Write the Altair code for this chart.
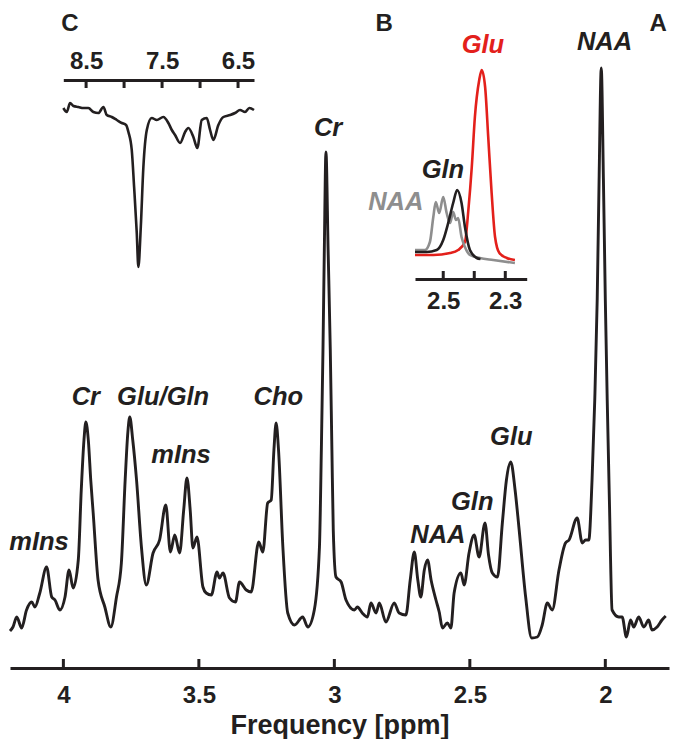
import altair as alt
import pandas as pd

# ---------------- data ----------------
# main spectrum (A): chemical shift [ppm] and intensity [a.u.]
main_ppm = [4.197, 4.186, 4.172, 4.154, 4.136, 4.117, 4.105, 4.087, 4.062, 4.043,
            4.031, 4.013, 3.994, 3.979, 3.964, 3.945, 3.934, 3.924, 3.917, 3.908,
            3.899, 3.890, 3.872, 3.847, 3.825, 3.804, 3.786, 3.772, 3.762, 3.755,
            3.744, 3.730, 3.712, 3.694, 3.669, 3.645, 3.622, 3.605, 3.589, 3.571,
            3.556, 3.544, 3.532, 3.522, 3.507, 3.485, 3.473, 3.454, 3.433, 3.424,
            3.411, 3.387, 3.365, 3.350, 3.325, 3.307, 3.279, 3.264, 3.246, 3.233,
            3.223, 3.215, 3.206, 3.190, 3.172, 3.147, 3.117, 3.098, 3.074, 3.055,
            3.048, 3.042, 3.037, 3.031, 3.023, 3.015, 3.009, 3.004, 2.994, 2.975,
            2.957, 2.926, 2.915, 2.897, 2.878, 2.865, 2.846, 2.834, 2.810, 2.779,
            2.761, 2.736, 2.720, 2.705, 2.692, 2.681, 2.668, 2.656, 2.643, 2.625,
            2.613, 2.601, 2.583, 2.570, 2.558, 2.533, 2.521, 2.503, 2.484, 2.466,
            2.444, 2.431, 2.417, 2.398, 2.380, 2.365, 2.349, 2.333, 2.319, 2.294,
            2.272, 2.251, 2.233, 2.214, 2.196, 2.171, 2.147, 2.134, 2.104, 2.085,
            2.073, 2.061, 2.049, 2.039, 2.030, 2.023, 2.015, 2.007, 2.000, 1.993,
            1.985, 1.975, 1.950, 1.938, 1.922, 1.907, 1.895, 1.877, 1.858, 1.840,
            1.828, 1.809, 1.791, 1.777]
main_int = [9, 13, 23, 12, 30, 38, 33, 47, 73, 43,
            40, 30, 43, 70, 52, 80, 150, 200, 218, 200,
            160, 127, 60, 33, 13, 43, 77, 160, 208, 223,
            200, 160, 93, 55, 87, 100, 135, 88, 105, 87,
            130, 162, 130, 92, 103, 53, 47, 45, 68, 62,
            67, 42, 38, 58, 50, 48, 98, 88, 137, 140,
            190, 217, 190, 93, 27, 15, 23, 13, 30, 93,
            190, 290, 390, 488, 390, 290, 190, 110, 63, 58,
            40, 30, 33, 27, 23, 37, 27, 37, 18, 37,
            27, 25, 60, 88, 60, 43, 70, 80, 60, 40,
            28, 12, 17, 12, 47, 67, 55, 87, 105, 83,
            117, 85, 67, 63, 117, 160, 178, 150, 113, 43,
            2, 3, 15, 37, 30, 70, 97, 100, 122, 97,
            100, 100, 160, 240, 340, 460, 572, 460, 340, 240,
            140, 30, 23, 23, 3, 20, 13, 23, 13, 20,
            10, 13, 20, 24]

# inset B: simulated basis spectra
b_glu_ppm = [2.591, 2.532, 2.478, 2.452, 2.430, 2.419, 2.408, 2.398, 2.384, 2.376,
             2.365, 2.355, 2.344, 2.333, 2.319, 2.295, 2.269]
b_glu_int = [25, 25, 27, 30, 38, 70, 113, 163, 200, 210,
             193, 143, 87, 43, 27, 22, 20]
b_gln_ppm = [2.591, 2.554, 2.521, 2.500, 2.484, 2.468, 2.455, 2.441, 2.430, 2.414,
             2.392, 2.380]
b_gln_int = [28, 28, 30, 40, 57, 77, 90, 77, 53, 30, 22, 21]
b_naa_ppm = [2.591, 2.559, 2.543, 2.532, 2.524, 2.513, 2.500, 2.489, 2.478, 2.468,
             2.459, 2.452, 2.441, 2.430, 2.414, 2.382, 2.339, 2.269]
b_naa_int = [30, 30, 38, 63, 78, 67, 83, 67, 57, 68,
             60, 62, 43, 33, 25, 22, 20, 17]

# inset C: aromatic region
c_ppm = [8.799, 8.754, 8.711, 8.667, 8.601, 8.536, 8.470, 8.404, 8.338, 8.272,
         8.228, 8.162, 8.096, 8.030, 7.974, 7.943, 7.899, 7.868, 7.833, 7.812,
         7.780, 7.746, 7.701, 7.636, 7.570, 7.483, 7.417, 7.372, 7.329, 7.263,
         7.197, 7.154, 7.088, 7.036, 6.978, 6.912, 6.868, 6.825, 6.759, 6.693,
         6.605, 6.540, 6.474, 6.408, 6.351, 6.290]
c_int = [22, 18, 27, 24, 23, 22, 22, 18, 17, 23,
         15, 13, 10, 7, 5, -2, -20, -57, -103, -137,
         -97, -37, 0, 12, 10, 13, 7, 0, -5, -13,
         -2, 2, -7, -18, 10, 12, 0, -10, 5, 13,
         15, 17, 20, 18, 22, 20]

# axis ticks / labels
main_ticks = [4, 3.5, 3, 2.5, 2]
b_ticks = [2.5, 2.4, 2.3]
b_tick_labels = [2.5, 2.3]
c_ticks = [8.5, 8.0, 7.5, 7.0, 6.5]
c_tick_labels = [8.5, 7.5, 6.5]

# peak annotations (main)
peak_names = ["NAA", "Cr", "Cr", "Glu/Gln", "mIns", "mIns", "Cho", "NAA", "Gln", "Glu"]
peak_name_ppm = [2.003, 3.023, 3.917, 3.632, 3.566, 4.090, 3.207, 2.618, 2.491, 2.347]
peak_name_int = [590, 504, 235, 235, 177, 90, 235, 97, 130, 195]

# inset B annotations
b_names = ["Glu", "Gln", "NAA"]
b_name_ppm = [2.372, 2.501, 2.653]
b_name_int = [227, 102, 70]

# panel letters
panel_names = ["C", "B", "A"]
panel_ppm = [3.976, 2.816, 1.805]
panel_int = [609, 609, 609]

# ---------------- style ----------------
FONT = "Liberation Sans"
BLACK = "#231f20"
RED = "#e3201b"
GRAY = "#8e8e8e"
W, H = 659, 658
TICK_FS = 24
ANN_FS = 25.5

x_main = alt.Scale(domain=[4.197, 1.765], nice=False, zero=False)
y_main = alt.Scale(domain=[-28, 630], nice=False, zero=False)
x_b = alt.Scale(domain=[2.591, 2.231], range=[405, 516.7], nice=False, zero=False)
y_b = alt.Scale(domain=[0, 250], range=[270, 20], nice=False, zero=False)
x_c = alt.Scale(domain=[8.8, 6.29], range=[53.3, 244], nice=False, zero=False)
y_c = alt.Scale(domain=[-140, 30], range=[260, 90], nice=False, zero=False)


def make_axis(**kw):
    base = dict(domain=True, domainColor=BLACK, domainWidth=3, ticks=False, tickSize=0,
                grid=False, labelFont=FONT, labelFontSize=TICK_FS, labelFontWeight="bold",
                labelColor=BLACK, labelBaseline="alphabetic", labelFlush=False,
                labelOverlap=False)
    base.update(kw)
    return alt.Axis(**base)


def tick_rules(values, xscale, y1, y2):
    return alt.Chart(pd.DataFrame({"t": values})).mark_rule(
        color=BLACK, strokeWidth=3).encode(
        x=alt.X("t:Q", scale=xscale, axis=None),
        y=alt.value(y1), y2=alt.value(y2))


# main spectrum
main_df = pd.DataFrame({"ppm": main_ppm, "intensity": main_int})
main_line = alt.Chart(main_df).mark_line(
    color=BLACK, strokeWidth=2.9, interpolate="monotone", strokeJoin="round"
).encode(
    x=alt.X("ppm:Q", scale=x_main,
            axis=make_axis(orient="bottom", values=main_ticks, format=".1~f",
                           labelPadding=34, title="Frequency [ppm]", titleFont=FONT,
                           titleFontSize=27, titleFontWeight="bold", titleColor=BLACK,
                           titleBaseline="alphabetic", titleY=65)),
    y=alt.Y("intensity:Q", scale=y_main, axis=None),
)
main_tick_layer = tick_rules(main_ticks, x_main, H - 9, H)

# inset B
def b_line(ppm, inten, color, axis):
    return alt.Chart(pd.DataFrame({"ppm": ppm, "intensity": inten})).mark_line(
        color=color, strokeWidth=2.6, interpolate="monotone", strokeJoin="round"
    ).encode(
        x=alt.X("ppm:Q", scale=x_b, axis=axis),
        y=alt.Y("intensity:Q", scale=y_b, axis=None),
    )

b_red = b_line(b_glu_ppm, b_glu_int, RED,
               make_axis(orient="bottom", offset=-389, values=b_tick_labels,
                         format=".1f", labelPadding=29, title=None))
b_gray = b_line(b_naa_ppm, b_naa_int, GRAY, None)
b_black = b_line(b_gln_ppm, b_gln_int, BLACK, None)
b_tick_layer = tick_rules(b_ticks, x_b, 261, 269)
b_text = alt.Chart(pd.DataFrame({"label": b_names, "ppm": b_name_ppm, "intensity": b_name_int})).mark_text(
    font=FONT, fontSize=ANN_FS, fontWeight="bold", fontStyle="italic", align="center",
    baseline="alphabetic"
).encode(
    x=alt.X("ppm:Q", scale=x_b, axis=None),
    y=alt.Y("intensity:Q", scale=y_b, axis=None),
    text="label:N",
    color=alt.Color("label:N", scale=alt.Scale(domain=b_names, range=[RED, BLACK, GRAY]),
                    legend=None),
)

# inset C
c_line = alt.Chart(pd.DataFrame({"ppm": c_ppm, "intensity": c_int})).mark_line(
    color=BLACK, strokeWidth=2.6, interpolate="monotone", strokeJoin="round"
).encode(
    x=alt.X("ppm:Q", scale=x_c,
            axis=make_axis(orient="top", offset=-70, values=c_tick_labels, format=".1f",
                           labelPadding=12, title=None)),
    y=alt.Y("intensity:Q", scale=y_c, axis=None),
)
c_tick_layer = tick_rules(c_ticks, x_c, 70, 78)

# annotations
main_text = alt.Chart(pd.DataFrame({"label": peak_names, "ppm": peak_name_ppm,
                                    "intensity": peak_name_int})).mark_text(
    font=FONT, fontSize=ANN_FS, fontWeight="bold", fontStyle="italic", color=BLACK,
    align="center", baseline="alphabetic"
).encode(
    x=alt.X("ppm:Q", scale=x_main, axis=None),
    y=alt.Y("intensity:Q", scale=y_main, axis=None),
    text="label:N",
)
panel_text = alt.Chart(pd.DataFrame({"label": panel_names, "ppm": panel_ppm,
                                     "intensity": panel_int})).mark_text(
    font=FONT, fontSize=24, fontWeight="bold", color=BLACK,
    align="center", baseline="alphabetic"
).encode(
    x=alt.X("ppm:Q", scale=x_main, axis=None),
    y=alt.Y("intensity:Q", scale=y_main, axis=None),
    text="label:N",
)

chart = alt.layer(
    main_line, main_tick_layer,
    b_red, b_gray, b_black, b_tick_layer, b_text,
    c_line, c_tick_layer,
    main_text, panel_text,
).resolve_scale(
    x="independent", y="independent", color="independent"
).properties(
    width=W, height=H,
    padding={"left": 2, "top": 2, "right": 1, "bottom": 71},
    autosize=alt.AutoSizeParams(type="none"),
).configure_view(stroke=None)

chart.save("out.html", embed_options={"renderer": "svg", "actions": False})
